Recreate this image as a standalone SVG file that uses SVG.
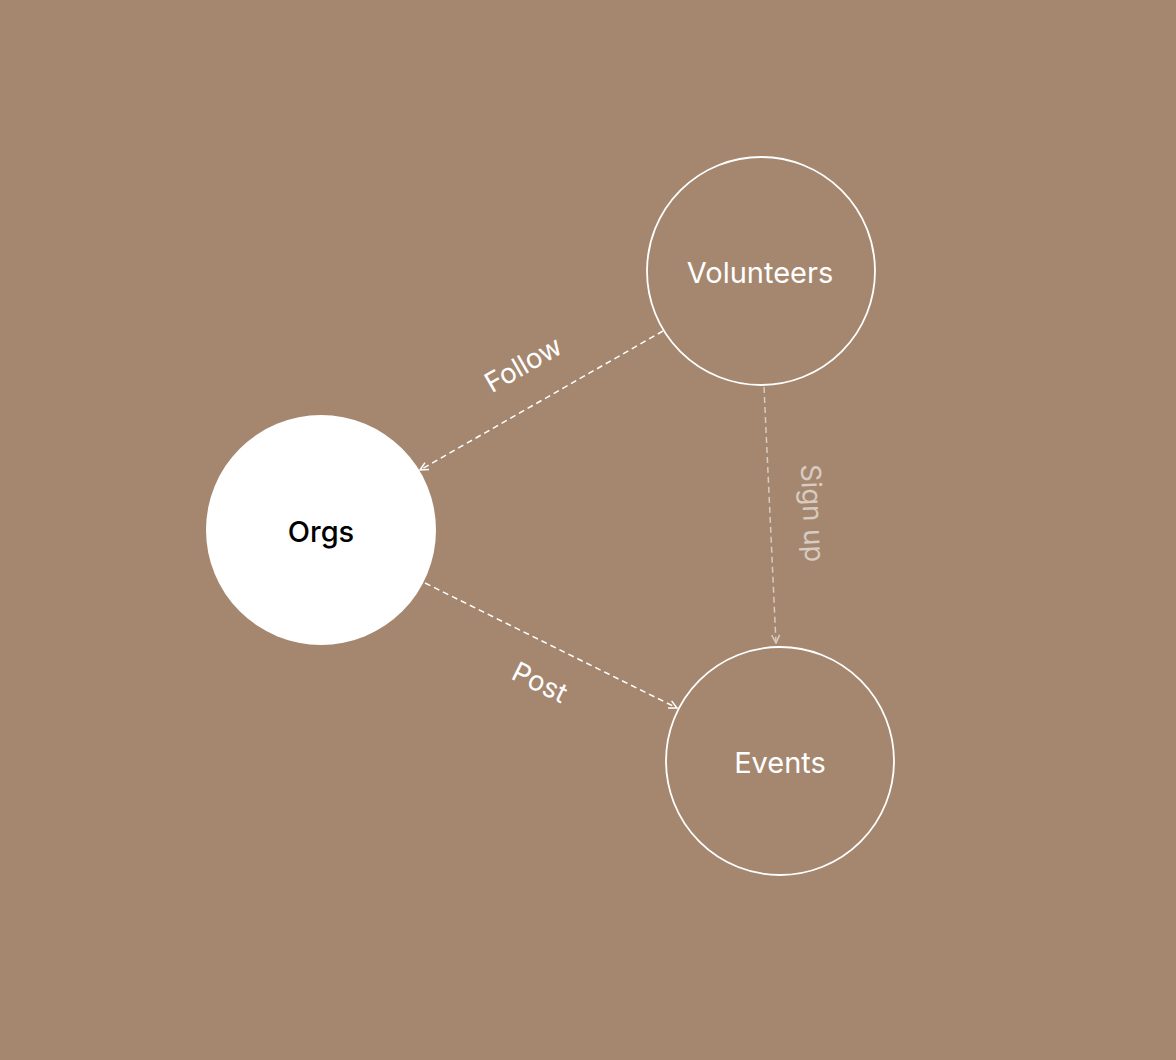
<svg xmlns="http://www.w3.org/2000/svg" width="1176" height="1060" viewBox="0 0 1176 1060">
<defs>
<style>
.node{fill:none;stroke:#fff;stroke-width:1.8}
.lbl{font-family:Inter,"Noto Sans",sans-serif;font-size:29px;fill:#fff;text-anchor:middle;dominant-baseline:central}
.edge{fill:none;stroke:#fff;stroke-width:1.5;stroke-dasharray:6 4}
.elbl{font-family:Inter,"Noto Sans",sans-serif;font-size:27.5px;fill:#fff;text-anchor:middle;dominant-baseline:central}
</style>
<marker id="arr" viewBox="0 0 10 10" refX="9" refY="5" markerWidth="10" markerHeight="10" markerUnits="userSpaceOnUse" orient="auto">
<path d="M1,1 L9,5 L1,9" fill="none" stroke="#fff" stroke-width="1.5"/>
</marker>
<marker id="arr2" viewBox="0 0 10 10" refX="9" refY="5" markerWidth="10" markerHeight="10" markerUnits="userSpaceOnUse" orient="auto">
<path d="M1,1 L9,5 L1,9" fill="none" stroke="#d8cbc1" stroke-width="1.5"/>
</marker>
</defs>
<rect width="1176" height="1060" fill="#a5876f"/>
<g id="connectors">
<path class="edge" d="M663,331 L420,470" marker-end="url(#arr)"/>
<text class="elbl" transform="translate(523,364) rotate(-29.8)">Follow</text>
<path class="edge" d="M764,387 L776,643" style="stroke:#d8cbc1" marker-end="url(#arr2)"/>
<text class="elbl" transform="translate(813,513) rotate(87.3)" style="fill:#d8cbc1">Sign up</text>
<path class="edge" d="M425,583 L677,708" marker-end="url(#arr)"/>
<text class="elbl" transform="translate(540,682) rotate(26.4)">Post</text>
</g>
<g id="node-volunteers">
<circle class="node" cx="761" cy="271" r="114"/>
<text class="lbl" x="760" y="272">Volunteers</text>
</g>
<g id="node-orgs">
<circle cx="321" cy="530" r="115" fill="#fff"/>
<text class="lbl" x="321" y="531" style="fill:#000;font-weight:500">Orgs</text>
</g>
<g id="node-events">
<circle class="node" cx="780" cy="761" r="114"/>
<text class="lbl" x="780" y="762">Events</text>
</g>
</svg>
